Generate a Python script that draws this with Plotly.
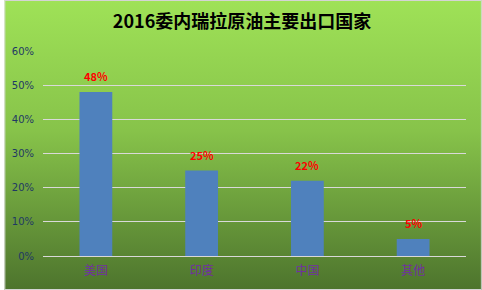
import base64
import plotly.graph_objects as go

categories = ["美国", "印度", "中国", "其他"]
values = [48, 25, 22, 5]
tick_vals = [0, 10, 20, 30, 40, 50, 60]
tick_text = ["0%", "10%", "20%", "30%", "40%", "50%", "60%"]
title = "2016委内瑞拉原油主要出口国家"

W, H = 482, 290
ML, MR, MT, MB = 39, 16, 51, 34

svg = (
    "<svg xmlns='http://www.w3.org/2000/svg' width='482' height='290' viewBox='0 0 482 290' preserveAspectRatio='none'>"
    "<defs><linearGradient id='g' x1='0' y1='0' x2='0' y2='1'>"
    "<stop offset='0' stop-color='#9fe257'/>"
    "<stop offset='0.45' stop-color='#87c34a'/>"
    "<stop offset='1' stop-color='#4d742d'/>"
    "</linearGradient></defs>"
    "<rect x='0' y='0' width='482' height='290' fill='url(#g)'/>"
    "<rect x='0.5' y='0.5' width='481' height='289' fill='none' stroke='#d4d4d4' stroke-width='1'/>"
    "</svg>"
)
src = "data:image/svg+xml;base64," + base64.b64encode(svg.encode()).decode()

pw = W - ML - MR
ph = H - MT - MB

fig = go.Figure()
fig.add_trace(go.Bar(
    x=categories, y=values,
    marker=dict(color="#4f81bd", line=dict(width=0)),
    hoverinfo="skip",
))

for c, v in zip(categories, values):
    fig.add_annotation(
        x=c, y=v, text=f"<b>{v}%</b>", showarrow=False,
        yanchor="bottom", yshift=6,
        font=dict(family="Noto Sans CJK SC, DejaVu Sans", size=11, color="#ff0000"),
    )

fig.add_layout_image(dict(
    source=src, xref="paper", yref="paper",
    x=-ML / pw, y=1 + MT / ph,
    sizex=W / pw, sizey=H / ph,
    xanchor="left", yanchor="top", sizing="stretch", layer="below",
))

fig.update_layout(
    width=W, height=H,
    margin=dict(l=ML, r=MR, t=MT, b=MB, pad=0),
    paper_bgcolor="rgba(0,0,0,0)",
    plot_bgcolor="rgba(0,0,0,0)",
    bargap=0.69,
    showlegend=False,
    title=dict(
        text=f"<b>{title}</b>", x=(240 - ML) / pw, xref="paper", xanchor="center",
        y=1 - 22 / H, yanchor="middle",
        font=dict(family="Noto Sans CJK SC", size=18, color="#000000"),
    ),
    xaxis=dict(
        showgrid=False, showline=True, linecolor="#d9d9d9", linewidth=1,
        ticks="", ticklabelstandoff=4,
        tickfont=dict(family="Noto Sans CJK SC", size=12, color="#7030a0"),
    ),
    yaxis=dict(
        range=[0, 60], tickvals=tick_vals, ticktext=tick_text,
        showgrid=True, gridcolor="#d9d9d9", gridwidth=1,
        zeroline=False, showline=False, ticks="",
        ticklabelstandoff=8,
        tickfont=dict(family="DejaVu Sans, Noto Sans", size=10, color="#1f3864"),
    ),
)

fig.write_html("out.html")
